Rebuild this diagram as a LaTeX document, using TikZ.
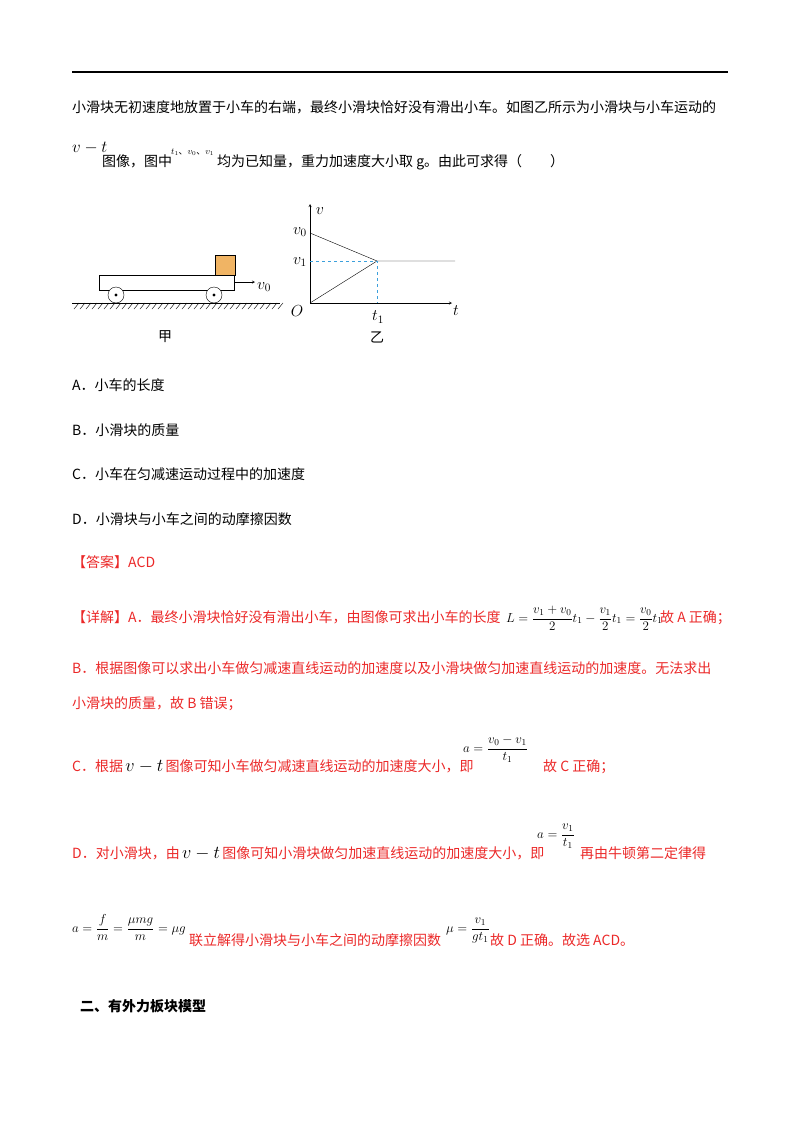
\RequirePackage{fix-cm}
\documentclass[tikz,border=0pt]{standalone}
\usepackage{amsmath}
\usepackage{fontspec}
\newfontfamily\cjk{Noto Sans CJK SC}
\definecolor{ans}{RGB}{235,40,40}
\definecolor{blk}{RGB}{240,180,100}
\definecolor{dsh}{RGB}{60,160,220}
\begin{document}
\begin{tikzpicture}[x=1pt,y=-1pt,
  txt/.style={anchor=base west,inner sep=0pt,font=\cjk\fontsize{14}{16}\selectfont},
  red/.style={txt,text=ans},
  lab/.style={inner sep=0pt,font=\fontsize{16}{18}\selectfont},
  fml/.style={txt,text=black,font=\fontsize{13}{15}\selectfont}]
\useasboundingbox (0,0) rectangle (800,1132);
\draw[line width=1.2pt] (72,72) -- (728,72);
\node[txt] (l1) at (72,112) {小滑块无初速度地放置于小车的右端，最终小滑块恰好没有滑出小车。如图乙所示为小滑块与小车运动的};
\node[fml] (l2a) at (72,152) {\scalebox{1.3}{$v-t$}};
\node[txt] (l2b) at (102,166) {图像，图中};
\node[fml] (l2c) at (171,154) {\fontsize{9}{10}\selectfont$t_1${\cjk 、}$v_0${\cjk 、}$v_1$};
\node[txt] (l2d) at (217,166) {均为已知量，重力加速度大小取 g。由此可求得（\qquad）};
% figure jia
\draw[fill=white] (99,275) rectangle (234,290);
\draw[fill=blk] (215,255) rectangle (235,275);
\foreach \x in {116,214} {\draw[fill=white] (\x,295) circle (8); \fill (\x,295) circle (1.6);}
\draw (72,303) -- (280,303);
\foreach \x in {74,80,...,278} \draw (\x,309) -- (\x+5,303);
\draw[-stealth] (234,282) -- (255,282);
\node[lab,anchor=west] (v0c) at (257,287) {$v_0$};
\node[txt,anchor=base] (jia) at (165,341) {甲};
% graph yi
\coordinate (O) at (310,303);
\draw[-stealth] (O) -- (310,204);
\draw[-stealth] (O) -- (452,303);
\draw (310,233) -- (377,261) -- (455,261);
\draw (O) -- (377,261);
\draw[dsh,dashed] (310,261) -- (377,261) -- (377,303);
\node[lab] at (320,211) {$v$};
\node[lab] at (300,232) {$v_0$};
\node[lab] at (300,262) {$v_1$};
\node[lab] at (297,311) {$O$};
\node[lab] at (378,317) {$t_1$};
\node[lab] at (456,311) {$t$};
\node[txt,anchor=base] (yi) at (377,342) {乙};
% options
\node[txt] (oa) at (72,390) {A．小车的长度};
\node[txt] (ob) at (72,435) {B．小滑块的质量};
\node[txt] (oc) at (72,479) {C．小车在匀减速运动过程中的加速度};
\node[txt] (od) at (72,524) {D．小滑块与小车之间的动摩擦因数};
\node[red] (da) at (72,567) {【答案】ACD};
\node[red] (xa) at (72,622) {【详解】A．最终小滑块恰好没有滑出小车，由图像可求出小车的长度};
\node[fml] (fa) at (506,622) {$L=\dfrac{v_1+v_0}{2}t_1-\dfrac{v_1}{2}t_1=\dfrac{v_0}{2}t_1$};
\node[red] (xa2) at (660,622) {故 A 正确；};
\node[red] (xb) at (72,673) {B．根据图像可以求出小车做匀减速直线运动的加速度以及小滑块做匀加速直线运动的加速度。无法求出};
\node[red] (xb2) at (72,708) {小滑块的质量，故 B 错误；};
\node[red] (xc) at (72,771) {C．根据\,{\color{black}\scalebox{1.3}{$v-t$}}\,图像可知小车做匀减速直线运动的加速度大小，即};
\node[fml] (fc) at (463,752) {$a=\dfrac{v_0-v_1}{t_1}$};
\node[red] (xc2) at (543,771) {故 C 正确；};
\node[red] (xd) at (72,858) {D．对小滑块，由\,{\color{black}\scalebox{1.3}{$v-t$}}\,图像可知小滑块做匀加速直线运动的加速度大小，即};
\node[fml] (fd) at (537,838) {$a=\dfrac{v_1}{t_1}$};
\node[red] (xd2) at (580,858) {再由牛顿第二定律得};
\node[fml] (fe) at (72,932) {$a=\dfrac{f}{m}=\dfrac{\mu mg}{m}=\mu g$};
\node[red] (xe) at (189,945) {联立解得小滑块与小车之间的动摩擦因数};
\node[fml] (fm) at (446,932) {$\mu=\dfrac{v_1}{gt_1}$};
\node[red] (xe2) at (490,945) {故 D 正确。故选 ACD。};
\node[txt,font=\cjk\bfseries\fontsize{14}{16}\selectfont] (sec) at (80,1011) {二、有外力板块模型};
\end{tikzpicture}
\end{document}
